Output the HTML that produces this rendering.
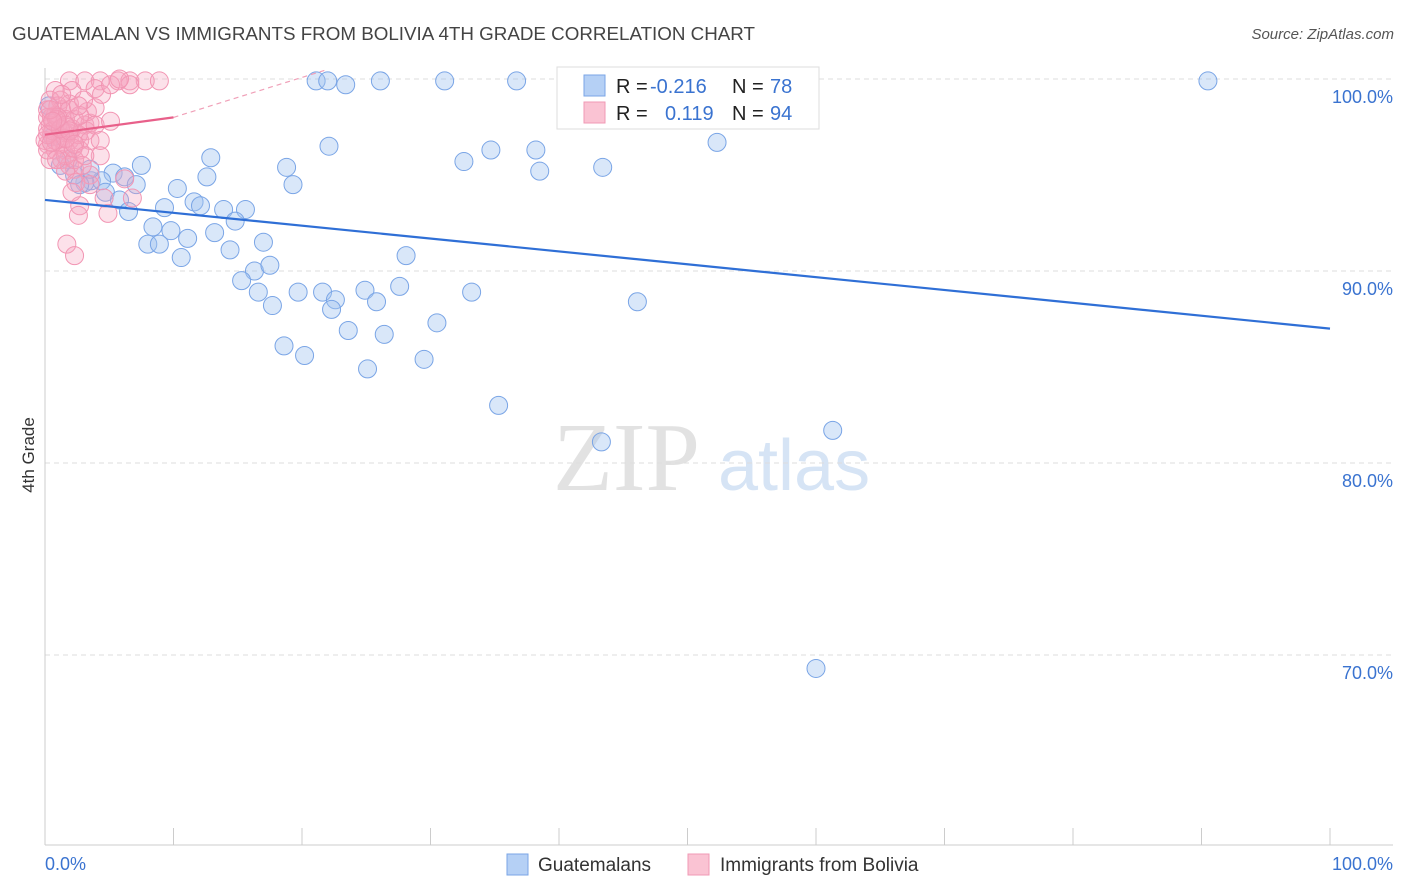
<!DOCTYPE html>
<html><head><meta charset="utf-8"><style>
body{margin:0;background:#fff;font-family:"Liberation Sans",sans-serif}
svg{display:block}
</style></head><body>
<svg id="c" width="1406" height="892" font-family="Liberation Sans, sans-serif">
<text x="12" y="40" font-size="18.8" fill="#444">GUATEMALAN VS IMMIGRANTS FROM BOLIVIA 4TH GRADE CORRELATION CHART</text>
<text x="1394" y="39" font-size="15" fill="#555" font-style="italic" text-anchor="end">Source: ZipAtlas.com</text>
<text transform="translate(34,455) rotate(-90)" font-size="17" fill="#333" text-anchor="middle">4th Grade</text>
<g>
<text x="553" y="490" font-size="98" font-family="Liberation Serif, serif" fill="#e2e2e2">ZIP</text>
<text x="718" y="490" font-size="72" fill="#d6e4f5">atlas</text>
</g>
<g id="grid"></g>
<g id="axes"></g>
<g id="pts"></g>
<g id="lines"></g>
<g>
<rect x="557" y="67" width="262" height="62" fill="#fff" stroke="#ddd"/>
<rect x="584" y="75" width="21" height="21" fill="#b5d0f5" stroke="#7aa5e6"/>
<rect x="584" y="102" width="21" height="21" fill="#fac3d3" stroke="#f09ab5"/>
<text x="616" y="93" font-size="20" fill="#222">R = </text><text x="650" y="93" font-size="20" fill="#3a73d0">-0.216</text>
<text x="732" y="93" font-size="20" fill="#222">N = </text><text x="770" y="93" font-size="20" fill="#3a73d0">78</text>
<text x="616" y="120" font-size="20" fill="#222">R = </text><text x="665" y="120" font-size="20" fill="#3a73d0">0.119</text>
<text x="732" y="120" font-size="20" fill="#222">N = </text><text x="770" y="120" font-size="20" fill="#3a73d0">94</text>
</g>
<g>
<rect x="507" y="854" width="21" height="21" fill="#b5d0f5" stroke="#7aa5e6"/>
<text x="538" y="871" font-size="19" fill="#333">Guatemalans</text>
<rect x="688" y="854" width="21" height="21" fill="#fac3d3" stroke="#f09ab5"/>
<text x="720" y="871" font-size="19" fill="#333">Immigrants from Bolivia</text>
</g>
</svg>
<script>
const yTicks=[100,90,80,70];
const yTickLabels=["100.0%","90.0%","80.0%","70.0%"];
const xTickLabels=["0.0%","100.0%"];
const blueX=[21.1,22.0,23.4,26.1,31.1,36.7,58.5,90.5,22.1,12.9,18.8,32.6,34.7,38.2,38.5,43.4,52.3,7.5,5.3,6.2,3.6,4.4,7.1,10.3,12.6,19.3,4.7,5.8,9.3,11.6,12.1,13.9,15.6,14.8,6.5,8.4,9.8,11.1,13.2,8.0,8.9,14.4,17.0,10.6,28.1,16.3,17.5,15.3,16.6,17.7,19.7,21.6,22.6,22.3,24.9,25.8,27.6,33.2,46.1,23.6,26.4,30.5,18.6,20.2,25.1,29.5,35.3,43.3,61.3,60.0,0.3,1.8,3.1,3.5,2.3,1.2,2.7,0.6];
const blueY=[99.9,99.9,99.7,99.9,99.9,99.9,99.9,99.9,96.5,95.9,95.4,95.7,96.3,96.3,95.2,95.4,96.7,95.5,95.1,94.9,94.7,94.7,94.5,94.3,94.9,94.5,94.1,93.7,93.3,93.6,93.4,93.2,93.2,92.6,93.1,92.3,92.1,91.7,92.0,91.4,91.4,91.1,91.5,90.7,90.8,90.0,90.3,89.5,88.9,88.2,88.9,88.9,88.5,88.0,89.0,88.4,89.2,88.9,88.4,86.9,86.7,87.3,86.1,85.6,84.9,85.4,83.0,81.1,81.7,69.3,98.6,95.8,94.6,95.3,95.0,95.5,94.5,97.0];
const pinkX=[1.9,3.1,4.3,5.7,6.6,7.8,8.9,0.8,2.1,3.9,6.6,4.4,1.2,1.9,0.2,0.8,1.3,0.4,1.0,1.6,2.3,3.1,3.5,0.5,1.2,1.9,2.7,0.2,0.8,1.6,2.7,4.3,1.3,1.9,0.4,2.3,1.6,3.5,2.4,6.2,6.8,4.9,2.7,2.6,1.7,2.3,0.2,0.5,1.0,1.4,1.8,2.1,2.6,3.2,0.0,0.2,0.4,0.8,1.2,1.6,2.3,2.9,1.9,1.3,3.3,3.9,3.0,5.1,5.8,0.2,0.6,0.9,2.2,1.6,2.7,3.5,1.0,0.2,0.5,1.2,1.6,1.9,0.9,0.4,2.3,3.1,3.9,2.6,5.1,4.3,4.6,3.5,2.1,0.6];
const pinkY=[99.9,99.9,99.9,99.9,99.9,99.9,99.9,99.4,99.4,99.5,99.7,99.2,98.9,98.7,98.4,98.1,98.4,97.6,97.6,97.9,97.9,97.6,97.7,97.1,96.9,96.8,96.8,96.6,96.3,96.3,96.3,96.0,95.8,95.5,95.8,95.3,95.2,95.0,94.6,94.8,93.8,93.0,93.4,92.9,91.4,90.8,97.4,98.0,98.6,97.3,97.2,97.4,97.1,97.3,96.8,96.3,98.9,96.8,96.6,96.0,95.8,95.5,98.4,99.2,98.3,98.5,98.9,99.7,100.0,98.0,97.3,95.8,96.4,96.9,98.1,96.8,98.0,97.1,96.7,97.4,97.6,97.3,97.9,98.4,96.6,96.0,97.6,98.6,97.8,96.8,93.8,94.5,94.1,97.8];
const blueTrend=[93.7,87.0];
const pinkTrend=[97.1,98.0];
const pinkDashEnd=[22.0,100.5];
const L=45,R=1330,T=79,PX=12.85,PY=19.2;
const sx=v=>L+v*PX, sy=v=>T+(100-v)*PY;
const NS="http://www.w3.org/2000/svg";
function mk(p,t,a){const e=document.createElementNS(NS,t);for(const k in a)e.setAttribute(k,a[k]);p.appendChild(e);return e;}
const grid=document.getElementById('grid'),axes=document.getElementById('axes'),pts=document.getElementById('pts'),lines=document.getElementById('lines');
yTicks.forEach((v,i)=>{
 const g=mk(grid,'line',{x1:L,x2:1393,y1:sy(v),y2:sy(v),stroke:'#ddd','stroke-dasharray':'5,4'});
 
 
 const t=mk(axes,'text',{x:1393,y:sy(v)+24,'text-anchor':'end','font-size':18,fill:'#3a73d0'});
 t.textContent=yTickLabels[i];
 
 
});
const ax=mk(axes,'line',{x1:L,x2:L,y1:68,y2:845,stroke:'#ccc'});


const bx=mk(axes,'line',{x1:L,x2:1393,y1:845,y2:845,stroke:'#ccc'});


for(let i=1;i<=10;i++){const tk=mk(axes,'line',{x1:sx(i*10),x2:sx(i*10),y1:828,y2:845,stroke:'#ccc'});
 
 }
[[0,'start',L],[1,'end',1393]].forEach(([i,a,x])=>{const t=mk(axes,'text',{x:x,y:870,'text-anchor':a,'font-size':18,fill:'#3a73d0'});t.textContent=xTickLabels[i];
 
 });
blueX.forEach((x,i)=>{const c=mk(pts,'circle',{cx:sx(x),cy:sy(blueY[i]),r:9,fill:'rgba(160,196,240,0.4)',stroke:'#7aa5e6','stroke-width':1});
 
 });
pinkX.forEach((x,i)=>{const c=mk(pts,'circle',{cx:sx(x),cy:sy(pinkY[i]),r:9,fill:'rgba(245,165,190,0.33)',stroke:'#f295b3','stroke-width':1});
 
 });
const bl=mk(lines,'line',{x1:sx(0),y1:sy(blueTrend[0]),x2:sx(100),y2:sy(blueTrend[1]),stroke:'#2f6fd6','stroke-width':2.2});


const pl=mk(lines,'line',{x1:sx(0),y1:sy(pinkTrend[0]),x2:sx(10),y2:sy(pinkTrend[1]),stroke:'#e8608a','stroke-width':2.2});


const pd=mk(lines,'line',{x1:sx(10),y1:sy(pinkTrend[1]),x2:sx(pinkDashEnd[0]),y2:sy(pinkDashEnd[1]),stroke:'#f0a0b8','stroke-width':1.2,'stroke-dasharray':'5,4'});


</script>
</body></html>
